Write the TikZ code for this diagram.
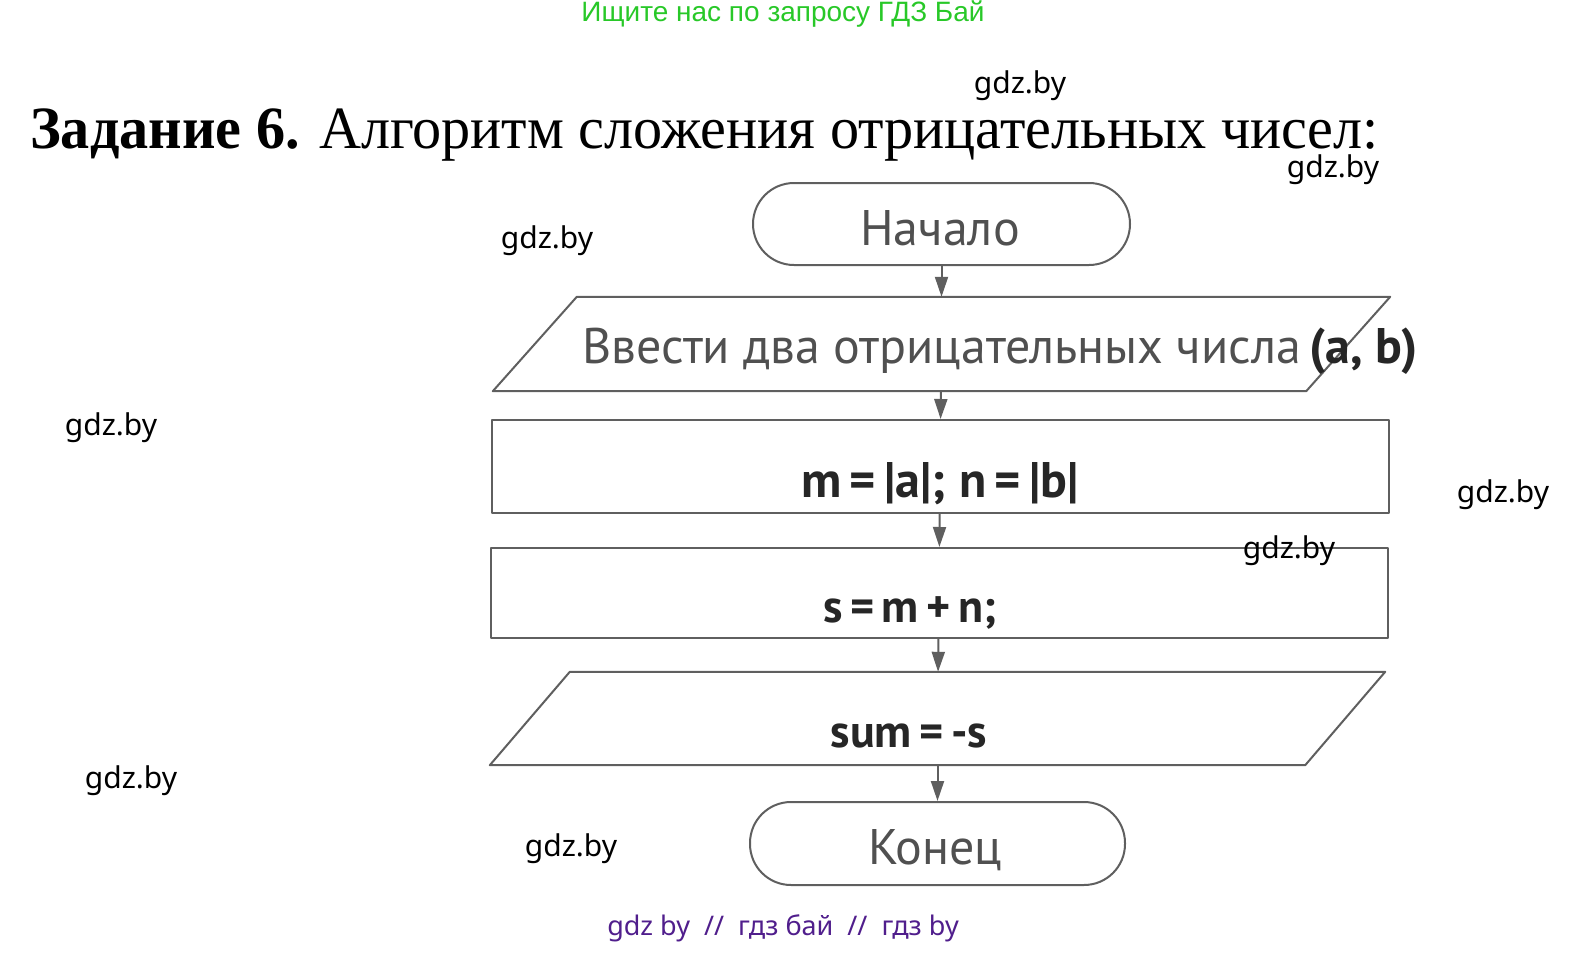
\documentclass[tikz,border=0pt]{standalone}
\usepackage{fontspec}
\setmainfont{Liberation Serif}
\newfontfamily\chartfont{PT Sans}
\newfontfamily\wmfont{Noto Sans}
\newfontfamily\greenfont{Liberation Sans}
\usetikzlibrary{positioning,calc,arrows.meta}
\definecolor{wmgreen}{RGB}{40,200,40}
\definecolor{wmpurple}{RGB}{80,30,140}
\definecolor{linegray}{RGB}{95,95,95}
\definecolor{textgray}{RGB}{80,80,80}
\newcommand\ioshape[2]{
  \draw[shapeline]
    (#1.south west) --
    ($(#1.north west)+(#2,0)$) --
    (#1.north east) --
    ($(#1.south east)-(#2,0)$) -- cycle;
}
\tikzset{
  shapeline/.style={draw=linegray,line width=2pt,line join=round},
  termbox/.style={shapeline,rounded corners=41pt,minimum width=377pt,minimum height=82pt,inner sep=0pt},
  procbox/.style={shapeline,minimum width=897pt,minimum height=93pt,inner sep=0pt},
  iobox/.style={minimum width=897pt,minimum height=94pt,inner sep=0pt},
  graytext/.style={anchor=base,text=textgray,inner sep=0pt,font=\chartfont\fontsize{50}{50}\selectfont},
  boldtext/.style={anchor=base,text=black!85,inner sep=0pt,font=\chartfont\bfseries\fontsize{46}{46}\selectfont},
  flowarrow/.style={draw=linegray,line width=2pt,-{Triangle[width=13pt,length=20pt]}},
  wmark/.style={inner sep=0pt,font=\wmfont\fontsize{30}{30}\selectfont},
}
\begin{document}
\begin{tikzpicture}[x=1pt,y=-1pt]
  \useasboundingbox (0,0) rectangle (1580,953);

  % headers
  \node[inner sep=0pt,text=wmgreen,font=\greenfont\fontsize{28}{28}\selectfont] (search) at (783,14)
    {Ищите нас по запросу ГДЗ Бай};
  \node[anchor=base west,inner sep=0pt,font=\fontsize{60}{60}\selectfont] (title) at (30,148)
    {\scalebox{0.97}[1]{\textbf{Задание 6.} Алгоритм сложения отрицательных чисел:}};

  % flowchart
  \node[termbox] (start) at (941.5,224) {};
  \node[graytext] (start-text) at (940,245) {Начало};
  \node[iobox] (in) at (941.5,344) {};
  \ioshape{in}{84}
  \node[graytext,anchor=base west] (in-text) at (582,363)
    {Ввести два отрицательных числа\,\textbf{\color{black!85}(a, b)}};
  \node[procbox] (mod) at (940,466.5) {};
  \node[boldtext,font=\chartfont\bfseries\fontsize{50}{50}\selectfont] (mod-text) at (940,497)
    {m\,=\,|a|; n\,=\,|b|};
  \node[procbox,minimum height=90pt] (add) at (939,593) {};
  \node[boldtext] (add-text) at (910,622) {s\,=\,m\,+\,n;};
  \node[iobox,minimum width=895pt,minimum height=93pt] (out) at (937.5,718.5) {};
  \ioshape{out}{80}
  \node[boldtext] (out-text) at (909,747) {sum\,=\,-s};
  \node[termbox,minimum width=375pt,minimum height=83pt] (stop) at (937.5,843.5) {};
  \node[graytext] (stop-text) at (935,864) {Конец};

  \draw[flowarrow] (start) -- (in);
  \draw[flowarrow] (in) -- (mod);
  \draw[flowarrow] (mod) -- (add);
  \draw[flowarrow] (add) -- (out);
  \draw[flowarrow] (out) -- (stop);

  % watermarks
  \foreach \x/\y [count=\i] in {1020/86,1333/170,547/241,111/428,1503/495,1289/551,131/781,571/849}
    \node[wmark] (wm-\i) at (\x,\y) {gdz.by};
  \node[wmark,text=wmpurple,font=\wmfont\fontsize{27}{27}\selectfont] (footer) at (783,928)
    {gdz by\ \ //\ \ гдз бай\ \ //\ \ гдз by};
\end{tikzpicture}
\end{document}
